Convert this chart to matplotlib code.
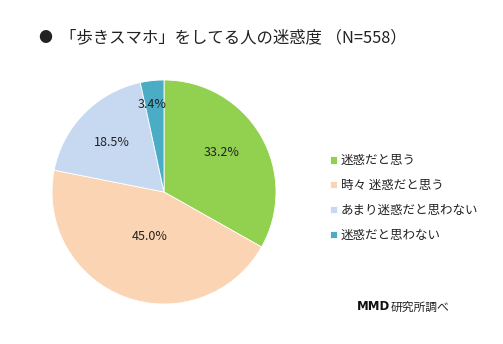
import matplotlib
matplotlib.use("Agg")
import matplotlib.pyplot as plt

plt.rcParams['font.family'] = ['Noto Sans CJK JP', 'DejaVu Sans']

title = "「歩きスマホ」をしてる人の迷惑度 （N=558）"
categories = ["迷惑だと思う", "時々 迷惑だと思う", "あまり迷惑だと思わない", "迷惑だと思わない"]
values = [33.2, 45.0, 18.5, 3.4]
colors = ["#92D050", "#FBD4B4", "#C6D9F1", "#4BACC6"]
source = "研究所調べ"

W, H = 503, 344
fig = plt.figure(figsize=(W / 100, H / 100), dpi=100)
fig.patch.set_facecolor("white")

# pie axes: center (164,192) px, radius 112 px
cx, cy, r = 164, 192, 112
ax = fig.add_axes([(cx - r) / W, (H - cy - r) / H, 2 * r / W, 2 * r / H])
wedges, texts = ax.pie(values, colors=colors, startangle=90, counterclock=False,
                       wedgeprops=dict(edgecolor="white", linewidth=0.6))
ax.set_xlim(-1, 1)
ax.set_ylim(-1, 1)
ax.set_aspect("equal")

# percentage labels
label_pos = [(222, 153), (150, 237), (112, 142), (152, 104)]
for v, (px, py) in zip(values, label_pos):
    dx = (px - cx) / r
    dy = -(py - cy) / r
    ax.text(dx, dy, f"{v:.1f}%", ha="center", va="center", fontsize=9, color="#222222")

# title
fig.text(45 / W, 1 - 38 / H, "●", fontsize=10, ha="center", va="center", color="#222222")
fig.text(60 / W, 1 - 38 / H, title, fontsize=11.8, ha="left", va="center", color="#222222")

# legend
leg = fig.legend(wedges, categories, loc="upper left",
                 bbox_to_anchor=(319 / W, 1 - 143 / H), frameon=False,
                 fontsize=9, handlelength=0.55, handleheight=0.55,
                 handletextpad=0.3, labelspacing=0.95)
for t in leg.get_texts():
    t.set_color("#222222")

# source
mmd = fig.text(357 / W, 1 - 307 / H, "MMD", fontsize=8.5, fontweight="bold",
               family="DejaVu Sans", ha="left", va="center", color="#111111")
ax.annotate(source, xy=(1, 0.5), xycoords=mmd, xytext=(0.5, 0),
            textcoords="offset points", ha="left", va="center",
            fontsize=8.5, color="#222222", annotation_clip=False)

fig.savefig("out.png", dpi=100, facecolor="white")
